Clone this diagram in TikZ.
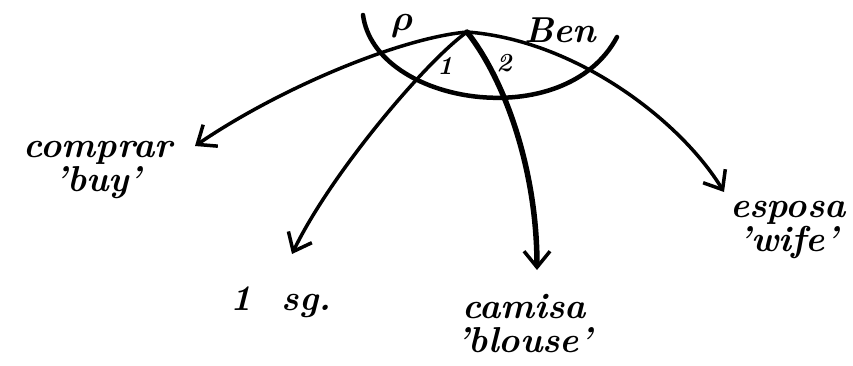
\RequirePackage{fix-cm}
\documentclass[tikz,border=0pt]{standalone}
\usetikzlibrary{arrows.meta}
\begin{document}
\begin{tikzpicture}[x=1pt,y={(0pt,-1pt)},
  lbl/.style={font=\fontsize{36}{40}\selectfont\bfseries\itshape, inner sep=0pt, align=center},
  small/.style={font=\fontsize{26}{30}\selectfont\bfseries\itshape\boldmath, inner sep=0pt},
  edge/.style={line width=3.5pt, line cap=round, -{Straight Barb[length=16pt,width=26pt,line width=3.5pt]}},
]
\useasboundingbox (0,0) rectangle (853,366);
\coordinate (apex) at (467,32);
\coordinate (t1) at (195,146);
\coordinate (t2) at (292,254);
\coordinate (t3) at (537,270);
\coordinate (t4) at (724,192);
\coordinate (al) at (363,15);
\coordinate (ar) at (617,37);
% arc
\draw[line width=4.5pt, line cap=round] (al) .. controls (375,105) and (565,135) .. (ar);
% edges
\draw[edge] (apex) .. controls (400,38) and (280,88) .. (t1);
\draw[edge] (apex) .. controls (425,62) and (330,175) .. (t2);
\draw[edge, line width=5.5pt] (apex) .. controls (505,80) and (537,170) .. (t3);
\draw[edge] (apex) .. controls (575,40) and (680,120) .. (t4);
% labels
\node[small, font=\fontsize{36}{40}\selectfont\boldmath] (rho) at (402,26) {$\rho$};
\node[lbl] (ben) at (560,30) {Ben};
\node[small] (one) at (445,66) {1};
\node[small] (two) at (504,63) {2};
\node[lbl] (comprar) at (98,170) {comprar\\[-6pt]'buy'};
\node[lbl] (sg) at (281,302) {1\ \ sg.};
\node[lbl] (camisa) at (524,324) {camisa\\[-6pt]'blouse'};
\node[lbl] (esposa) at (788,230) {esposa\\[-6pt]'wife'};
\end{tikzpicture}
\end{document}
